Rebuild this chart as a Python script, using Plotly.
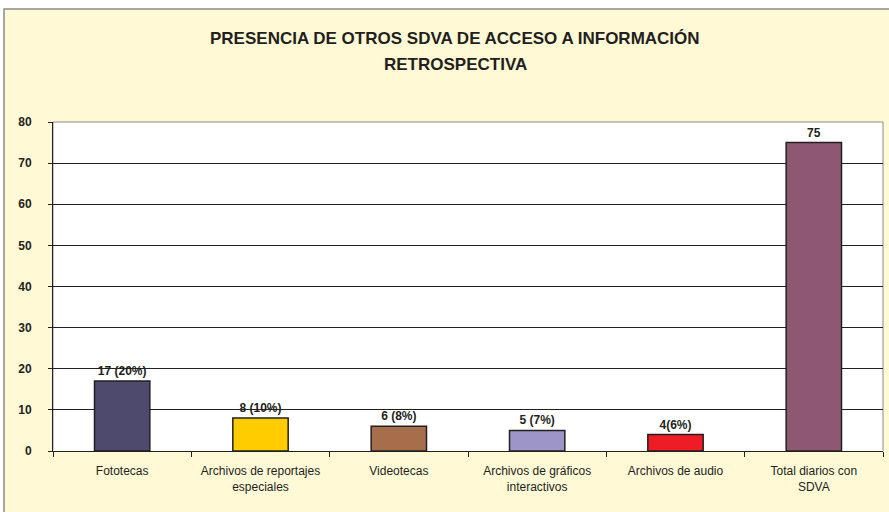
import plotly.graph_objects as go

categories = ["Fototecas", "Archivos de reportajes<br>especiales", "Videotecas",
              "Archivos de gráficos<br>interactivos", "Archivos de audio",
              "Total diarios con<br>SDVA"]
values = [17, 8, 6, 5, 4, 75]
labels = ["17 (20%)", "8 (10%)", "6 (8%)", "5 (7%)", "4(6%)", "75"]
colors = ["#4E4A6E", "#FFCC00", "#A66E4A", "#9D94C8", "#EE1C25", "#8E5873"]
title_lines = ["PRESENCIA DE OTROS SDVA DE ACCESO A INFORMACIÓN", "RETROSPECTIVA"]
y_ticks = [0, 10, 20, 30, 40, 50, 60, 70, 80]

font = "Liberation Sans, Arial, sans-serif"
ink = "#231F20"

fig = go.Figure(go.Bar(
    x=categories, y=values, text=labels, textposition="outside",
    texttemplate="<b>%{text}</b>",
    textfont=dict(family=font, size=12, color=ink),
    marker=dict(color=colors, line=dict(color=ink, width=1.5)),
    width=0.4, cliponaxis=False, hoverinfo="skip",
))

W, H = 889, 512
left, top, right, bottom = 53, 122, 883, 451  # target plot area in window px
l, t = left, top
pw, ph = right - left, bottom - top
r = W - l - pw
b = H - t - ph

def px(x):
    return (x - left) / pw

def py(y):
    return (bottom - y) / ph

annotations = [
    dict(text=f"<b>{txt}</b>", xref="paper", yref="paper", x=px(455), y=py(yy),
         xanchor="center", yanchor="middle", showarrow=False,
         font=dict(family=font, size=17, color=ink))
    for txt, yy in zip(title_lines, [38, 65])
]

fig.update_layout(
    width=W, height=H,
    margin=dict(l=l, r=r, t=t, b=b, autoexpand=False),
    paper_bgcolor="white", plot_bgcolor="white",
    showlegend=False,
    annotations=annotations,
    shapes=[
        dict(type="rect", xref="paper", yref="paper", layer="below",
             x0=px(4), x1=px(895), y0=py(530), y1=py(9),
             fillcolor="#FFF9D6", line=dict(color="#8A8A8A", width=1.5)),
        dict(type="rect", xref="paper", yref="paper", layer="below",
             x0=0, x1=1, y0=0, y1=1, fillcolor="white",
             line=dict(color="#8A8A8A", width=1)),
    ],
    bargap=0.6,
)
fig.update_xaxes(
    automargin=False, tickangle=0,
    showline=True, linecolor=ink, linewidth=1,
    ticks="outside", tickson="boundaries", ticklen=5, tickcolor=ink,
    tickfont=dict(family=font, size=12, color=ink),
    ticklabelstandoff=9,
)
fig.update_yaxes(
    automargin=False,
    range=[0, 80], tickvals=y_ticks, ticktext=[f"<b>{v}</b>" for v in y_ticks],
    showline=True, linecolor=ink, linewidth=1,
    ticks="outside", ticklen=4, tickcolor=ink,
    showgrid=True, gridcolor=ink, gridwidth=1,
    tickfont=dict(family=font, size=12, color=ink),
    ticklabelstandoff=14,
)

fig.write_html("out.html", config={"displayModeBar": False},
               post_script="document.body.style.margin='0';")
